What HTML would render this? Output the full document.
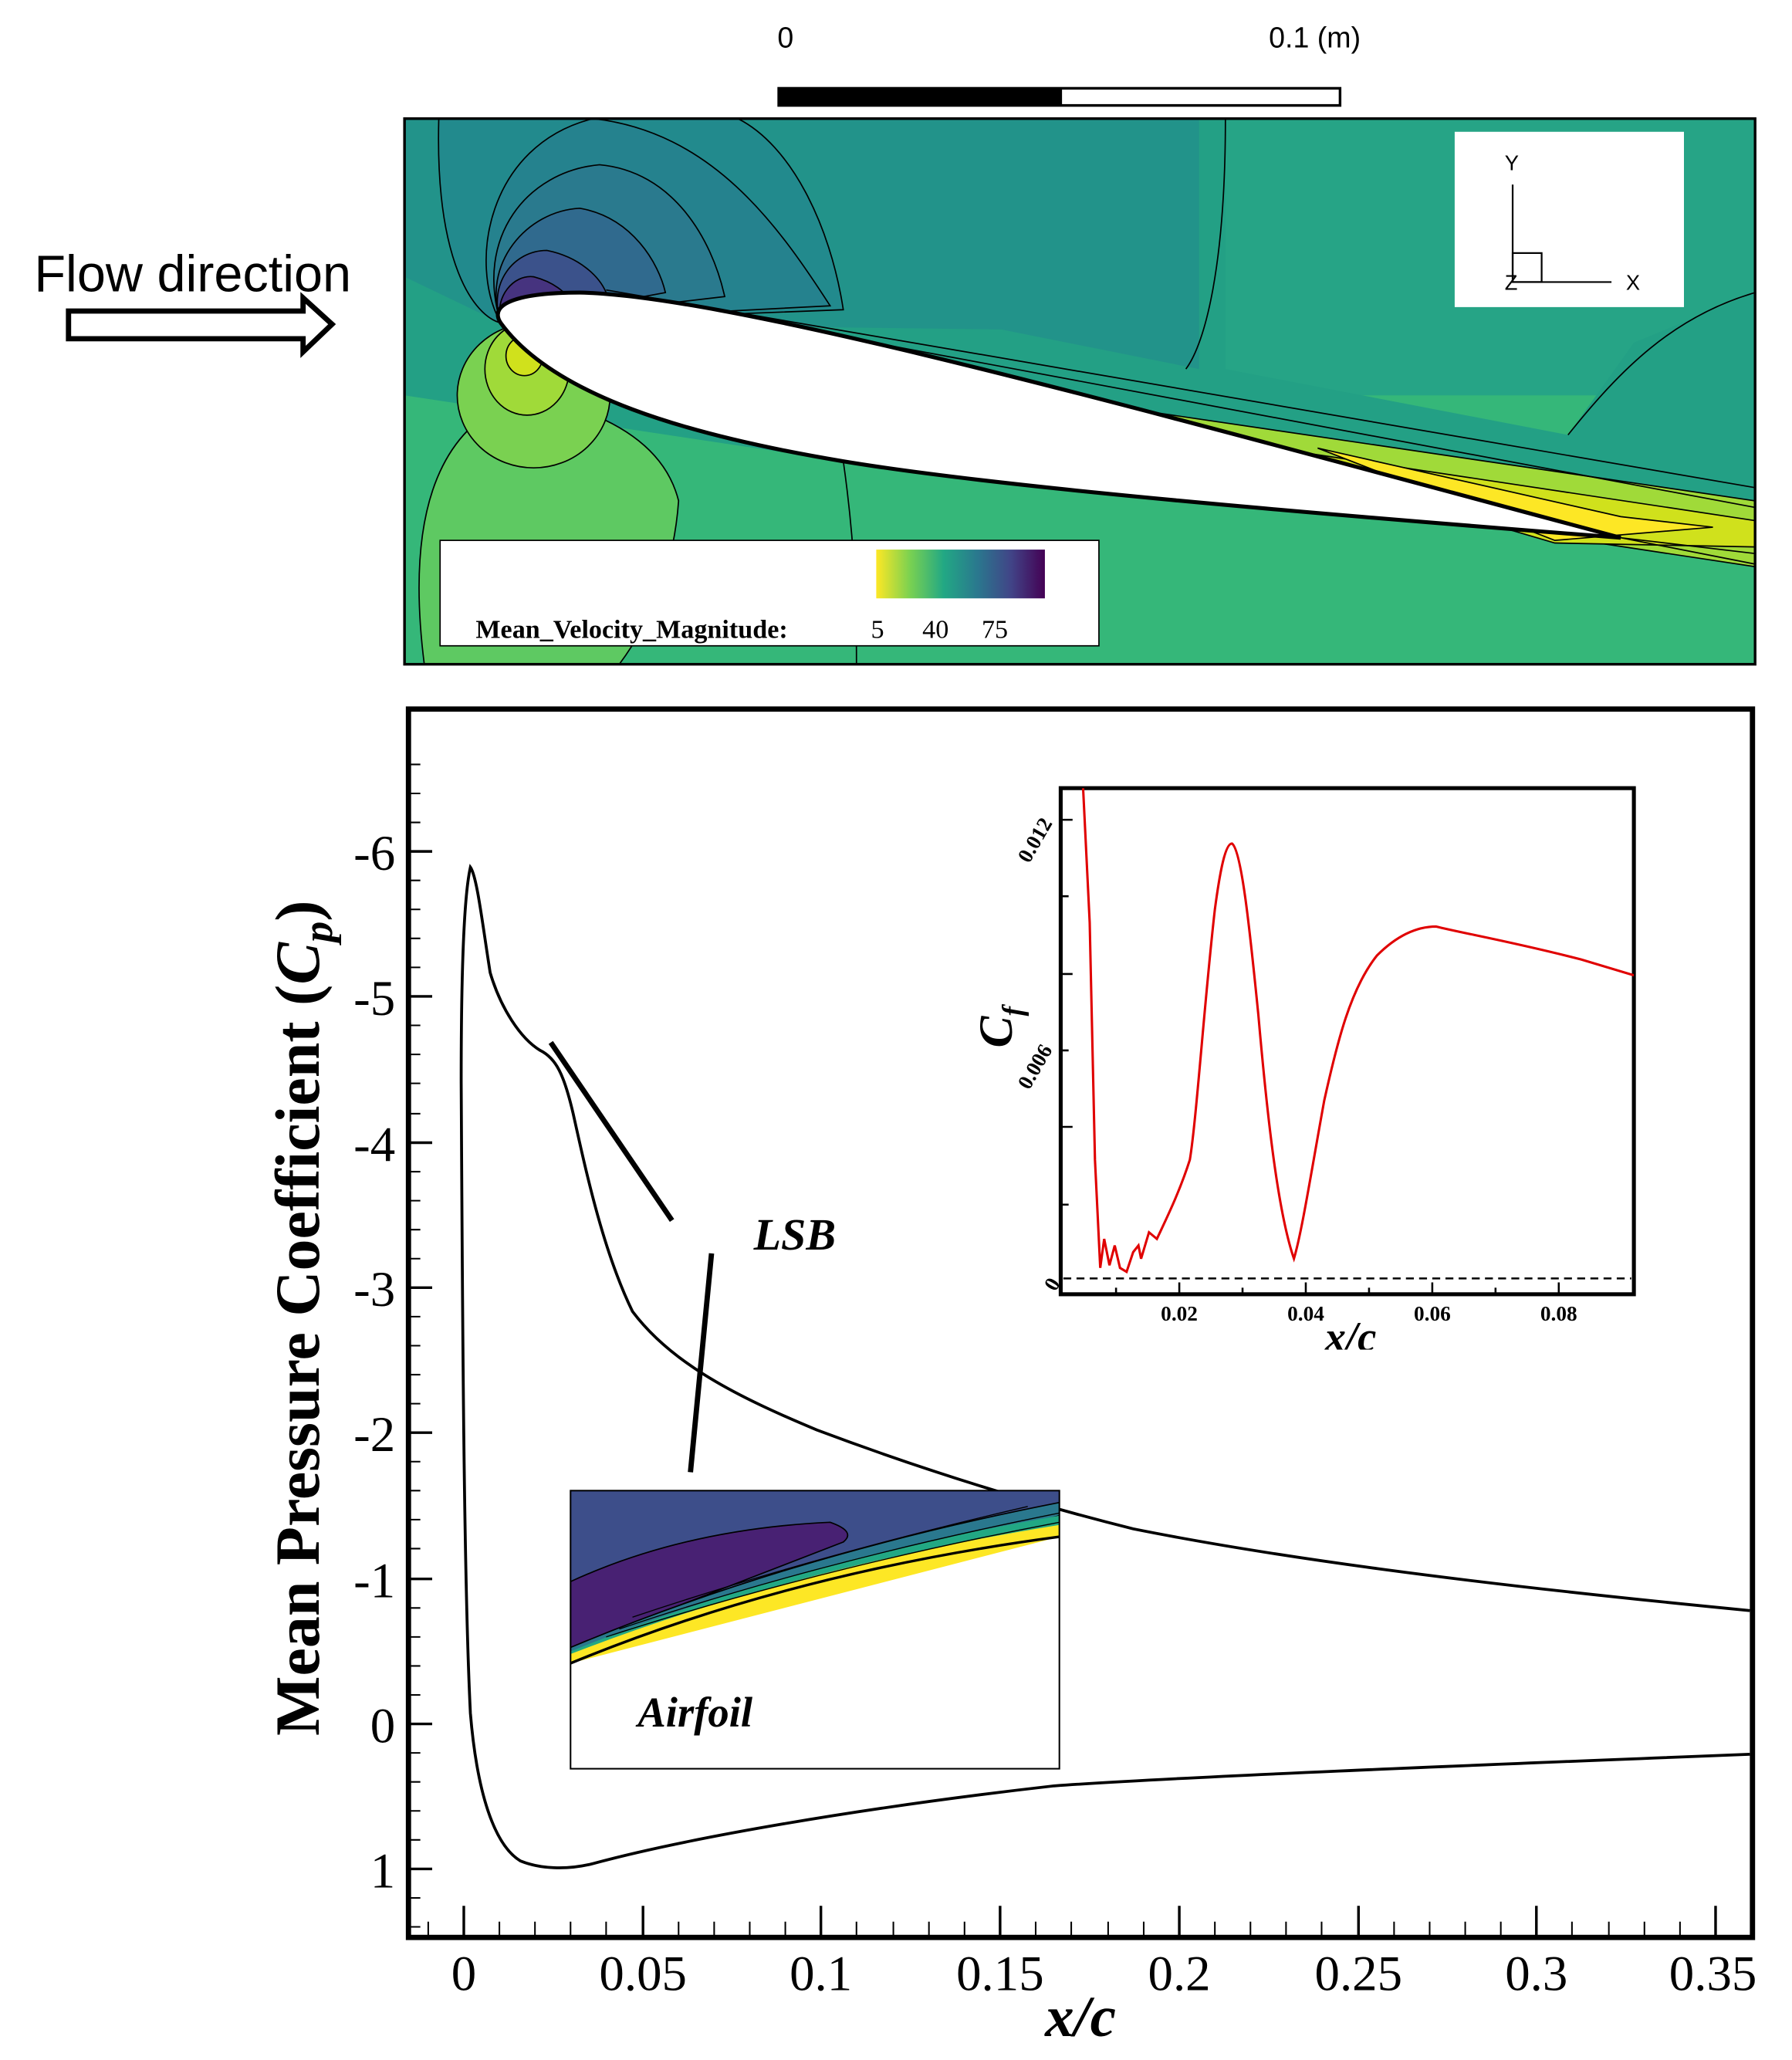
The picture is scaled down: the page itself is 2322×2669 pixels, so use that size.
<!DOCTYPE html>
<html><head><style>html,body{margin:0;padding:0;background:#fff}svg{display:block}</style></head>
<body>
<svg width="2322" height="2669" viewBox="0 0 1360 1563" preserveAspectRatio="none" xmlns="http://www.w3.org/2000/svg">
<defs>
<linearGradient id="vir" x1="0" x2="1" y1="0" y2="0">
<stop offset="0" stop-color="#fde725"/><stop offset="0.2" stop-color="#7ad151"/><stop offset="0.4" stop-color="#22a884"/><stop offset="0.6" stop-color="#2a788e"/><stop offset="0.8" stop-color="#414487"/><stop offset="1" stop-color="#440154"/>
</linearGradient>
<clipPath id="cbox"><rect x="307" y="90" width="1025" height="414"/></clipPath>
<clipPath id="ibox"><rect x="433" y="1131" width="371" height="211"/></clipPath>
<clipPath id="cfbox"><rect x="805" y="598" width="435" height="384"/></clipPath>
</defs>
<!-- scale bar -->
<g font-family="Liberation Sans, sans-serif" font-size="22" fill="#000">
<text x="590" y="36">0</text><text x="963" y="36">0.1 (m)</text></g>
<rect x="591" y="67" width="426" height="13" fill="#fff" stroke="#000" stroke-width="2"/>
<rect x="591" y="67" width="215" height="13" fill="#000"/>
<!-- flow direction -->
<text x="26" y="221" font-family="Liberation Sans, sans-serif" font-size="39">Flow direction</text>
<path d="M52 236 H230 V226 L252 246 L230 267 V257 H52 Z" fill="#fff" stroke="#000" stroke-width="4"/>
<!-- contour box -->
<g clip-path="url(#cbox)">
<rect x="307" y="90" width="1025" height="414" fill="#26a486"/>
<rect x="307" y="300" width="1025" height="204" fill="#35b779"/>
<path d="M307 90 H930 V280 L1190 330 L1240 260 L1332 222 V380 L1230 408 L640 350 L307 300 Z" fill="#23a085"/>
<path d="M307 90 H910 V280 L760 250 L380 245 L307 210 Z" fill="#22938a"/>
<path d="M333 90 C330 200 360 240 380 245 L640 235 C630 170 600 110 560 90 Z" fill="#228a8d" stroke="#000" stroke-width="1"/>
<path d="M380 245 C355 200 370 110 450 90 C540 100 590 170 630 232 Z" fill="#25828e" stroke="#000" stroke-width="1"/>
<path d="M380 245 C360 180 400 130 455 125 C510 130 540 180 550 225 Z" fill="#2a7a8e" stroke="#000" stroke-width="1"/>
<path d="M380 245 C365 200 400 160 440 158 C480 165 500 200 505 222 Z" fill="#306a8e" stroke="#000" stroke-width="1"/>
<path d="M380 245 C370 215 390 190 415 190 C440 195 455 210 460 222 Z" fill="#3b528b" stroke="#000" stroke-width="1"/>
<path d="M380 245 C375 225 390 208 405 210 C420 214 430 222 432 228 Z" fill="#46337f" stroke="#000" stroke-width="1"/>
<path d="M322 504 Q300 330 400 300 Q500 320 515 380 Q510 450 470 504 Z" fill="#5ec962" stroke="#000" stroke-width="1"/>
<path d="M640 350 C650 420 650 470 650 504" stroke="#000" stroke-width="1" fill="none"/>
<ellipse cx="405" cy="300" rx="58" ry="55" fill="#7ad151" stroke="#000" stroke-width="1"/>
<ellipse cx="400" cy="280" rx="32" ry="35" fill="#a0da39" stroke="#000" stroke-width="1"/>
<ellipse cx="398" cy="270" rx="14" ry="15" fill="#d0e11c" stroke="#000" stroke-width="1"/>
<path d="M380 240 L1332 380 V430 L1200 410 Z" fill="#a0da39" stroke="#000" stroke-width="1"/>
<path d="M900 330 L1332 395 V415 L1180 412 Z" fill="#d0e11c" stroke="#000" stroke-width="1"/>
<path d="M1000 340 L1230 392 L1300 400 L1180 410 Z" fill="#fde725" stroke="#000" stroke-width="1"/>
<path d="M460 220 L1332 370 M460 222 L1332 385 M1230 408 L1332 420 M1230 408 L1332 428 M930 90 C930 200 915 260 900 280 M1190 330 C1230 280 1270 240 1332 222" stroke="#000" stroke-width="1" fill="none"/>
<path d="M380 245 C370 230 395 222 440 222 C560 224 900 320 1230 408 C1000 390 760 370 640 350 C520 330 420 300 380 245 Z" fill="#fff" stroke="#000" stroke-width="3"/>
</g>
<rect x="307" y="90" width="1025" height="414" fill="none" stroke="#000" stroke-width="2"/>
<rect x="1104" y="100" width="174" height="133" fill="#fff"/>
<g stroke="#000" stroke-width="1.3" fill="none"><path d="M1148 140 V214 H1223"/><rect x="1148" y="192" width="22" height="22"/></g>
<g font-family="Liberation Sans, sans-serif" font-size="16"><text x="1142" y="129">Y</text><text x="1234" y="220">X</text><text x="1142" y="220">Z</text></g>
<rect x="334" y="410" width="500" height="80" fill="#fff" stroke="#000" stroke-width="1"/>
<rect x="665" y="417" width="128" height="37" fill="url(#vir)"/>
<g font-family="Liberation Serif, serif" font-size="20" fill="#000"><text x="361" y="484" font-weight="bold">Mean_Velocity_Magnitude:</text><text x="661" y="484">5</text><text x="700" y="484">40</text><text x="745" y="484">75</text></g>
<!-- main plot -->
<rect x="310" y="538" width="1020" height="932" fill="none" stroke="#000" stroke-width="4"/>
<g stroke="#000" stroke-width="2">
<path d="M310 646 h18 M310 756 h18 M310 867 h18 M310 977 h18 M310 1087 h18 M310 1198 h18 M310 1308 h18 M310 1418 h18"/>
<path d="M352 1470 v-24 M488 1470 v-24 M623 1470 v-24 M759 1470 v-24 M895 1470 v-24 M1031 1470 v-24 M1166 1470 v-24 M1302 1470 v-24"/>
</g>
<g stroke="#000" stroke-width="1.2">
<path d="M310 580 h9 M310 602 h9 M310 624 h9 M310 668 h9 M310 690 h9 M310 712 h9 M310 734 h9 M310 778 h9 M310 800 h9 M310 822 h9 M310 845 h9 M310 889 h9 M310 911 h9 M310 933 h9 M310 955 h9 M310 999 h9 M310 1021 h9 M310 1043 h9 M310 1065 h9 M310 1109 h9 M310 1131 h9 M310 1153 h9 M310 1175 h9 M310 1220 h9 M310 1242 h9 M310 1264 h9 M310 1286 h9 M310 1330 h9 M310 1352 h9 M310 1374 h9 M310 1396 h9 M310 1440 h9 M310 1462 h9"/>
<path d="M325 1470v-12 M379 1470v-12 M406 1470v-12 M433 1470v-12 M460 1470v-12 M515 1470v-12 M542 1470v-12 M569 1470v-12 M596 1470v-12 M650 1470v-12 M678 1470v-12 M705 1470v-12 M732 1470v-12 M786 1470v-12 M813 1470v-12 M841 1470v-12 M868 1470v-12 M922 1470v-12 M949 1470v-12 M976 1470v-12 M1003 1470v-12 M1058 1470v-12 M1085 1470v-12 M1112 1470v-12 M1139 1470v-12 M1193 1470v-12 M1221 1470v-12 M1248 1470v-12 M1275 1470v-12"/>
</g>
<g font-family="Liberation Serif, serif" font-size="38" fill="#000" text-anchor="end">
<text x="300" y="660">-6</text><text x="300" y="770">-5</text><text x="300" y="881">-4</text><text x="300" y="991">-3</text><text x="300" y="1101">-2</text><text x="300" y="1212">-1</text><text x="300" y="1322">0</text><text x="300" y="1432">1</text></g>
<g font-family="Liberation Serif, serif" font-size="38" fill="#000" text-anchor="middle">
<text x="352" y="1510">0</text><text x="488" y="1510">0.05</text><text x="623" y="1510">0.1</text><text x="759" y="1510">0.15</text><text x="895" y="1510">0.2</text><text x="1031" y="1510">0.25</text><text x="1166" y="1510">0.3</text><text x="1300" y="1510">0.35</text></g>
<text x="820" y="1545" font-family="Liberation Serif, serif" font-size="44" font-weight="bold" font-style="italic" text-anchor="middle">x/c</text>
<text transform="translate(242,1000) rotate(-90)" font-family="Liberation Serif, serif" font-size="48" font-weight="bold" text-anchor="middle">Mean Pressure Coefficient (<tspan font-style="italic">C</tspan><tspan font-style="italic" font-size="32" dy="10">p</tspan><tspan dy="-10">)</tspan></text>
<path d="M1328 1331 C1100 1340 900 1348 800 1355 C650 1372 520 1395 450 1414 C430 1419 410 1418 395 1412 C375 1400 362 1360 357 1300 C352 1200 351 1000 350 820 C350 740 352 680 357 658 C362 665 366 700 372 738 C380 765 395 788 410 797 C422 803 428 815 435 845 C445 890 458 950 480 995 C510 1035 560 1060 620 1085 C700 1115 780 1140 860 1160 C960 1180 1100 1200 1328 1222" fill="none" stroke="#000" stroke-width="2.2"/>
<path d="M418 791 L510 926 M540 951 L524 1117" stroke="#000" stroke-width="4"/>
<text x="572" y="948" font-family="Liberation Serif, serif" font-size="34" font-weight="bold" font-style="italic">LSB</text>
<!-- inset contour -->
<rect x="433" y="1131" width="371" height="211" fill="#fff"/>
<g clip-path="url(#ibox)">
<path d="M433 1131 H804 V1165 L433 1260 Z" fill="#3d4e8a"/>
<path d="M433 1200 Q520 1160 630 1155 Q650 1162 640 1170 L433 1250 Z" fill="#482173" stroke="#000" stroke-width="1"/>
<path d="M433 1250 Q600 1180 804 1140 V1150 L433 1255 Z" fill="#2a788e" stroke="#000" stroke-width="1"/>
<path d="M433 1253 Q600 1185 804 1150 V1158 L433 1258 Z" fill="#22a884"/>
<path d="M433 1255 Q600 1190 804 1157 V1166 L433 1262 Z" fill="#fde725"/>
<path d="M480 1227 Q620 1180 780 1143 M470 1236 Q620 1185 804 1148 M460 1242 Q620 1190 804 1155" stroke="#000" stroke-width="0.8" fill="none"/>
<path d="M433 1262 Q600 1193 804 1166" stroke="#000" stroke-width="2" fill="none"/>
</g>
<rect x="433" y="1131" width="371" height="211" fill="none" stroke="#000" stroke-width="1.2"/>
<text x="484" y="1310" font-family="Liberation Serif, serif" font-size="32" font-weight="bold" font-style="italic">Airfoil</text>
<!-- Cf inset -->
<rect x="805" y="598" width="435" height="384" fill="#fff" stroke="#000" stroke-width="3"/>
<path d="M807 970 H1238" stroke="#000" stroke-width="1.5" stroke-dasharray="6,4"/>
<g stroke="#000" stroke-width="1.5"><path d="M805 622h9 M805 680h6 M805 739h9 M805 797h6 M805 855h9 M805 914h6 M895 982v-9 M991 982v-9 M1087 982v-9 M1183 982v-9 M847 982v-5 M943 982v-5 M1039 982v-5 M1135 982v-5"/></g>
<g clip-path="url(#cfbox)">
<path d="M822 598 L827 700 L831 880 L835 962 L838 940 L842 960 L846 945 L850 962 L855 965 L860 950 L864 945 L866 955 L872 935 L878 940 C885 925 895 905 903 880 C908 850 914 760 922 690 C926 660 930 640 935 640 C942 645 948 700 955 770 C962 850 970 920 982 955 C988 935 995 890 1005 835 C1015 790 1025 750 1045 725 C1060 710 1075 703 1090 703 C1110 708 1150 715 1200 728 L1240 740" fill="none" stroke="#e00000" stroke-width="1.8"/>
</g>
<g font-family="Liberation Serif, serif" font-size="16" font-weight="bold" text-anchor="middle">
<text x="895" y="1002">0.02</text><text x="991" y="1002">0.04</text><text x="1087" y="1002">0.06</text><text x="1183" y="1002">0.08</text>
<text transform="translate(790,640) rotate(-60)">0.012</text><text transform="translate(790,812) rotate(-60)">0.006</text><text transform="translate(803,977) rotate(-60)">0</text>
</g>
<text x="1025" y="1025" font-family="Liberation Serif, serif" font-size="32" font-weight="bold" font-style="italic" text-anchor="middle">x/c</text>
<rect x="980" y="1024" width="100" height="12" fill="#fff"/>
<text transform="translate(768,795) rotate(-90)" font-family="Liberation Serif, serif" font-size="36" font-weight="bold" font-style="italic">C<tspan font-size="22" dy="8">f</tspan></text>
</svg>
</body></html>
